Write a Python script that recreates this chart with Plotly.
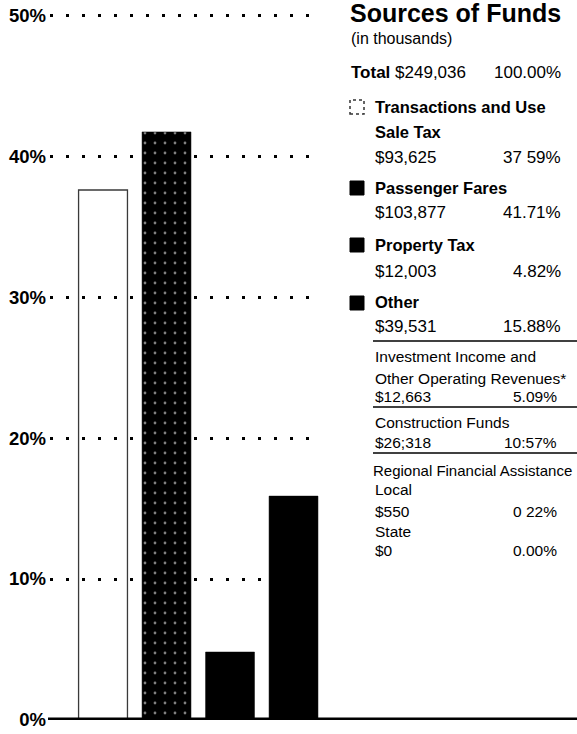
import plotly.graph_objects as go

# ---------------- data ----------------
categories = ["Transactions and Use Sale Tax", "Passenger Fares", "Property Tax", "Other"]
shares = [37.59, 41.71, 4.82, 15.88]
amounts = ["$93,625", "$103,877", "$12,003", "$39,531"]
share_labels = ["37 59%", "41.71%", "4.82%", "15.88%"]
legend_names = [["Transactions and Use", "Sale Tax"], ["Passenger Fares"], ["Property Tax"], ["Other"]]

total_amount = "$249,036"
total_share = "100.00%"

other_names = [["Investment Income and", "Other Operating Revenues*"], ["Construction Funds"]]
other_amounts = ["$12,663", "$26;318"]
other_shares = ["5.09%", "10:57%"]
regional_title = "Regional Financial Assistance"
regional_names = ["Local", "State"]
regional_amounts = ["$550", "$0"]
regional_shares = ["0 22%", "0.00%"]

y_ticks = [0, 10, 20, 30, 40, 50]
y_tick_labels = ["0%", "10%", "20%", "30%", "40%", "50%"]

# ---------------- layout geometry ----------------
W, H = 577, 734
Y_TOP = 50.5
PL, PR, PT, PB = 50, 320, 8, 720  # plot area in pixels (0% at 720, 50% at ~15)
FONT = "Liberation Sans, Arial, Helvetica, sans-serif"


def px_x(px):
    return (px - PL) / (PR - PL)


def px_y(py):
    return (PB - py) / (PB - PT)


fig = go.Figure()
fig.add_trace(go.Bar(
    x=categories,
    y=shares,
    width=0.77,
    marker=dict(
        color=["rgba(255,255,255,0)", "black", "black", "black"],
        line=dict(color=["#3a3a3a", "black", "black", "black"], width=[1.3, 0.5, 0.5, 0.5]),
        pattern=dict(
            shape=["", ".", "", ""],
            fgcolor=["white", "white", "white", "white"],
            bgcolor=["rgba(255,255,255,0)", "black", "black", "black"],
            size=10,
            solidity=0.06,
        ),
    ),
    hoverinfo="skip",
    showlegend=False,
))

fig.update_layout(
    width=W, height=H,
    margin=dict(l=PL, r=W - PR, t=PT, b=H - PB, pad=0),
    plot_bgcolor="white", paper_bgcolor="white",
    font=dict(family=FONT, color="black"),
    xaxis=dict(type="category", range=[-0.835, 3.417], showticklabels=False,
               showgrid=False, zeroline=False, showline=False, ticks="", automargin=False),
    yaxis=dict(range=[0, Y_TOP], tickvals=y_ticks, ticktext=y_tick_labels,
               showgrid=True, gridcolor="black", gridwidth=2.5, griddash="2.5px,13.5px",
               zeroline=False, showline=False, ticks="", automargin=False,
               layer="above traces", ticklabelstandoff=3,
               tickfont=dict(family=FONT, size=18.5, color="black", weight="bold")),
)

shapes = []
# baseline
shapes.append(dict(type="line", xref="paper", yref="y", x0=px_x(48), x1=px_x(590), y0=0, y1=0,
                   line=dict(color="black", width=5), layer="above"))

annotations = []


def ann(text, x, y, size, anchor="left"):
    annotations.append(dict(text=text, xref="paper", yref="paper", x=px_x(x), y=px_y(y),
                            xanchor=anchor, yanchor="middle", showarrow=False,
                            font=dict(family=FONT, size=size, color="black")))


ann("<b>Sources of Funds</b>", 348, 13, 25)
ann("(in thousands)", 349, 39, 16)
ann("<b>Total</b> " + total_amount, 349, 72, 17)
ann(total_share, 563, 72, 17, "right")

name_y = [[107, 132], [188], [245], [302]]
value_y = [157, 213, 271, 327]
square_y = [107, 188, 245, 303]
for i in range(4):
    for nm, yy in zip(legend_names[i], name_y[i]):
        ann("<b>" + nm + "</b>", 373, yy, 16.5)
    ann(amounts[i], 373, value_y[i], 17)
    ann(share_labels[i], 563, value_y[i], 17, "right")
    sq = dict(type="rect", xref="paper", yref="paper",
              x0=px_x(350), x1=px_x(364), y0=px_y(square_y[i] + 7), y1=px_y(square_y[i] - 7))
    if i == 0:
        sq.update(fillcolor="white", line=dict(color="#333333", width=1.5, dash="dot"))
    else:
        sq.update(fillcolor="black", line=dict(color="black", width=1))
    shapes.append(sq)

# sub-items of "Other"
sep_y = [341, 407, 453]
for yy in sep_y:
    shapes.append(dict(type="line", xref="paper", yref="paper", x0=px_x(373), x1=px_x(590),
                       y0=px_y(yy), y1=px_y(yy), line=dict(color="black", width=1.5)))

ann(other_names[0][0], 373, 356, 15.5)
ann(other_names[0][1], 373, 378, 15.5)
ann(other_amounts[0], 373, 396, 15.5)
ann(other_shares[0], 559, 396, 15.5, "right")
ann(other_names[1][0], 373, 422, 15.5)
ann(other_amounts[1], 373, 442, 15.5)
ann(other_shares[1], 559, 442, 15.5, "right")
ann(regional_title, 371, 470, 15)
ann(regional_names[0], 373, 490, 15.5)
ann(regional_amounts[0], 373, 511, 15.5)
ann(regional_shares[0], 559, 511, 15.5, "right")
ann(regional_names[1], 373, 531, 15.5)
ann(regional_amounts[1], 373, 550, 15.5)
ann(regional_shares[1], 559, 550, 15.5, "right")

fig.update_layout(shapes=shapes, annotations=annotations)
# remove the browser's default 8px body margin so the figure sits at the window origin
fig.write_html("out.html", config={"displayModeBar": False},
               post_script="document.body.style.margin='0';")
